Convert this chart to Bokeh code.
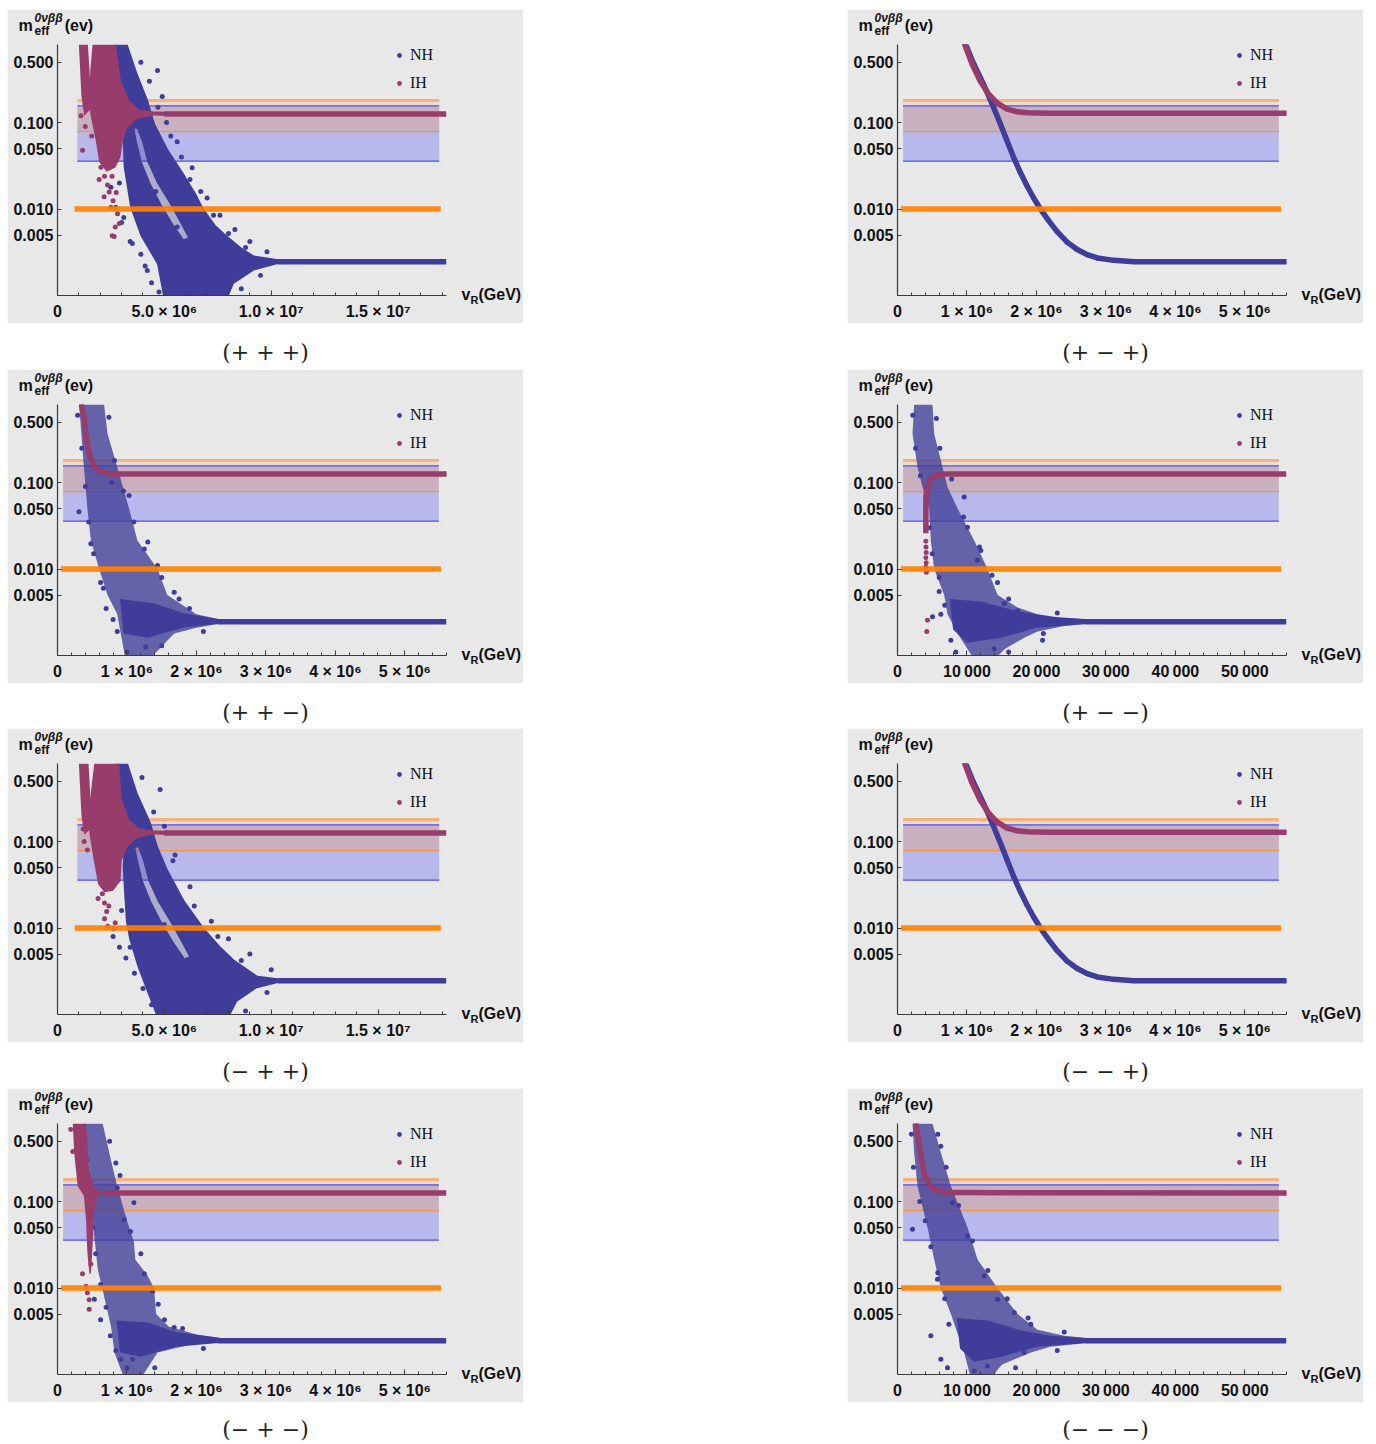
from bokeh.plotting import figure
from bokeh.layouts import column, row
from bokeh.models import (FixedTicker, Label, Legend, LegendItem, Range1d, Spacer,
                          PrintfTickFormatter)
from bokeh.embed import file_html
from bokeh.resources import INLINE

# ---------------- shared values ----------------
Y_TICKS = [0.005, 0.01, 0.05, 0.1, 0.5]
Y_LIMITS = (0.001, 0.8)
NH_BAND = (0.0358, 0.156)      # blue band
IH_BAND = (0.0787, 0.180)      # orange band
BOUND = 0.010                  # thick orange line
NH_PLATEAU = 0.00245
IH_PLATEAU = 0.126

X_MAX_A = 1.82e7
X_TICKS_A = [0, 5000000, 10000000, 15000000]
X_LABELS_A = ["0", "5.0 × 10⁶", "1.0 × 10⁷", "1.5 × 10⁷"]
X_MINOR_A = [k * 1000000 for k in range(1, 19)]
BAND_X_A = (0.93e6, 17.86e6)
BOUND_X_A = (0.80e6, 17.93e6)

X_MAX_B = 5.6e6
X_TICKS_B = [0, 1000000, 2000000, 3000000, 4000000, 5000000]
X_LABELS_B = ["0", "1 × 10⁶", "2 × 10⁶", "3 × 10⁶", "4 × 10⁶", "5 × 10⁶"]
X_MINOR_B = [k * 200000 for k in range(1, 29)]
BAND_X_B = (0.08e6, 5.49e6)
BOUND_X_B = (0.05e6, 5.52e6)

X_MAX_C = 56000
X_TICKS_C = [0, 10000, 20000, 30000, 40000, 50000]
X_LABELS_C = ["0", "10\u2009000", "20\u2009000", "30\u2009000", "40\u2009000", "50\u2009000"]
X_MINOR_C = [k * 2000 for k in range(1, 29)]
BAND_X_C = (800, 54900)
BOUND_X_C = (500, 55200)

CAPTIONS = ["(+ + +)", "(+ − +)", "(+ + −)", "(+ − −)",
            "(− + +)", "(− − +)", "(− + −)", "(− − −)"]

# ---------------- panel (+ + +) ----------------
P1_NH_X = [4.97e6, 4.66e6, 3.88e6, 3.40e6, 3.10e6, 3.05e6, 3.20e6, 3.30e6, 3.00e6, 2.85e6, 2.65e6,
           3.28e6, 3.74e6, 4.24e6, 4.55e6, 5.15e6, 5.90e6, 6.50e6, 6.80e6, 7.40e6, 7.94e6, 8.60e6,
           9.19e6, 10.4e6, 10.4e6, 9.19e6, 8.25e6, 7.94e6]
P1_NH_Y = [0.0009, 0.0023, 0.0049, 0.0105, 0.030, 0.060, 0.10, 0.15, 0.25, 0.40, 0.80,
           0.80, 0.37, 0.18, 0.098, 0.050, 0.026, 0.0148, 0.0105, 0.0065, 0.0049, 0.0036,
           0.0029, 0.0026, 0.00235, 0.00195, 0.00137, 0.0009]
P1_GAP_X = [3.60e6, 3.72e6, 3.95e6, 4.35e6, 4.85e6, 5.40e6, 5.90e6, 6.10e6, 5.70e6, 5.20e6,
            4.65e6, 4.20e6, 3.95e6, 3.72e6]
P1_GAP_Y = [0.085, 0.060, 0.035, 0.020, 0.0115, 0.0068, 0.0045, 0.0047, 0.0072, 0.012,
            0.020, 0.035, 0.060, 0.085]
P1_IH_X = [1.64e6, 2.73e6, 2.96e6, 3.35e6, 3.82e6, 4.50e6, 5.20e6, 5.20e6, 4.50e6, 3.70e6,
           3.25e6, 3.05e6, 2.95e6, 2.70e6, 2.30e6, 1.95e6, 1.80e6, 1.55e6, 1.45e6, 1.55e6]
P1_IH_Y = [0.80, 0.80, 0.31, 0.18, 0.142, 0.134, 0.133, 0.119, 0.121, 0.11,
           0.085, 0.060, 0.040, 0.030, 0.027, 0.035, 0.060, 0.12, 0.20, 0.45]
P1_STREAM_X = [1.00e6, 1.42e6, 1.50e6, 1.56e6, 1.52e6, 1.25e6, 1.12e6, 1.05e6]
P1_STREAM_Y = [0.80, 0.80, 0.40, 0.20, 0.14, 0.12, 0.20, 0.45]
P1_NH_DOTS_X = [2.50e6, 2.73e6, 3.00e6, 3.40e6, 3.90e6, 4.20e6, 4.40e6, 4.75e6, 4.68e6, 4.90e6,
                5.10e6, 5.60e6, 6.30e6, 7.00e6, 7.60e6, 8.30e6, 9.00e6, 9.80e6, 8.60e6, 9.50e6,
                4.60e6, 5.60e6, 1.95e6, 2.20e6, 1.80e6, 3.90e6, 4.30e6, 4.70e6, 5.30e6, 5.80e6,
                6.20e6, 6.70e6, 7.30e6, 8.00e6, 8.80e6, 2.90e6, 3.10e6, 3.50e6, 4.10e6]
P1_NH_DOTS_Y = [0.0179, 0.0105, 0.0070, 0.0042, 0.0030, 0.00195, 0.0014, 0.0011, 0.40, 0.20,
                0.10, 0.060, 0.030, 0.0134, 0.0085, 0.0058, 0.0042, 0.0032, 0.0012, 0.0017,
                0.016, 0.0062, 0.37, 0.25, 0.16, 0.50, 0.30, 0.15, 0.070, 0.040,
                0.022, 0.016, 0.0085, 0.0052, 0.0036, 0.020, 0.0080, 0.0040, 0.0022]
P1_IH_DOTS_X = [1.25e6, 1.17e6, 2.03e6, 1.95e6, 2.34e6, 2.42e6, 2.50e6, 2.81e6, 2.89e6, 2.65e6,
                2.18e6, 2.60e6, 2.20e6, 2.55e6, 2.75e6, 1.10e6, 1.30e6, 1.60e6, 2.56e6, 2.70e6]
P1_IH_DOTS_Y = [0.21, 0.048, 0.0305, 0.022, 0.019, 0.0157, 0.0105, 0.0088, 0.0068, 0.0048,
                0.0139, 0.0125, 0.024, 0.024, 0.0155, 0.12, 0.09, 0.07, 0.0049, 0.0062]
P1_NH_TAIL_X = [10.3e6, 18.2e6]
P1_IH_TAIL_X = [5.0e6, 18.2e6]

# ---------------- panel (+ - +) and (- - +) : identical curves ----------------
P2_NH_X = [0.976e6, 1.096e6, 1.240e6, 1.361e6, 1.481e6, 1.577e6, 1.673e6, 1.769e6, 1.865e6,
           1.962e6, 2.058e6, 2.178e6, 2.298e6, 2.442e6, 2.587e6, 2.731e6, 2.875e6, 3.115e6,
           3.404e6, 5.6e6]
P2_NH_Y = [0.820, 0.479, 0.274, 0.1656, 0.0965, 0.0615, 0.0393, 0.0264, 0.01845,
           0.01334, 0.0100, 0.0073, 0.00547, 0.00414, 0.0034, 0.00297, 0.00272, 0.00255,
           0.00246, 0.00246]
P2_IH_X = [0.962e6, 1.072e6, 1.192e6, 1.3125e6, 1.433e6, 1.577e6, 1.721e6, 1.865e6, 2.154e6, 5.6e6]
P2_IH_Y = [0.820, 0.479, 0.300, 0.213, 0.1686, 0.1433, 0.1334, 0.1297, 0.1285, 0.1285]

# ---------------- panel (+ + -) ----------------
P3_NH_X = [0.31e6, 0.67e6, 0.72e6, 0.86e6, 1.03e6, 1.15e6, 1.44e6, 1.58e6, 2.00e6, 2.35e6,
           2.35e6, 2.00e6, 1.68e6, 1.32e6, 0.98e6, 0.91e6, 0.86e6, 0.72e6, 0.60e6, 0.48e6,
           0.43e6, 0.38e6, 0.34e6]
P3_NH_Y = [0.80, 0.80, 0.366, 0.151, 0.050, 0.0214, 0.010, 0.005, 0.0030, 0.0026,
           0.00235, 0.0021, 0.0018, 0.0009, 0.0009, 0.0018, 0.0030, 0.005, 0.010, 0.0214,
           0.050, 0.15, 0.40]
P3_CORE_X = [0.90e6, 1.40e6, 1.80e6, 2.35e6, 2.35e6, 1.80e6, 1.30e6, 0.95e6]
P3_CORE_Y = [0.0045, 0.0040, 0.0031, 0.0026, 0.00235, 0.0021, 0.0016, 0.0018]
P3_NH_DOTS_X = [0.31e6, 0.48e6, 0.62e6, 0.70e6, 1.30e6, 1.44e6, 1.68e6, 1.03e6, 1.00e6, 1.27e6,
                0.86e6, 0.82e6, 0.74e6, 0.29e6, 0.35e6, 0.40e6, 0.45e6, 0.52e6, 0.66e6, 0.80e6,
                0.78e6, 0.95e6, 1.10e6, 1.25e6, 1.50e6, 1.75e6, 1.90e6, 2.10e6, 1.50e6]
P3_NH_DOTS_Y = [0.046, 0.0196, 0.0070, 0.0035, 0.0205, 0.0110, 0.0054, 0.071, 0.0011, 0.00125,
                0.0019, 0.18, 0.57, 0.60, 0.25, 0.090, 0.035, 0.015, 0.0060, 0.0026,
                0.10, 0.080, 0.035, 0.017, 0.0080, 0.0045, 0.0035, 0.0019, 0.0013]
P3_IH_X = [0.345e6, 0.384e6, 0.413e6, 0.456e6, 0.518e6, 0.60e6, 0.768e6, 5.6e6]
P3_IH_Y = [0.80, 0.553, 0.335, 0.215, 0.157, 0.136, 0.126, 0.126]
P3_NH_TAIL_X = [2.3e6, 5.6e6]

# ---------------- panel (+ - -) ----------------
P4_NH_X = [2400, 5040, 5280, 6480, 7200, 8640, 11040, 12960, 14400, 17300, 20160, 24000, 28000,
           28000, 24000, 20160, 18240, 15500, 13920, 11040, 8640, 7200, 6720, 5280, 4800, 4560,
           3600, 2880, 2160]
P4_NH_Y = [0.80, 0.80, 0.366, 0.151, 0.089, 0.050, 0.0214, 0.010, 0.005, 0.0036, 0.0030, 0.0027,
           0.0026, 0.00235, 0.0022, 0.0019, 0.0016, 0.0012, 0.0009, 0.0009, 0.0018, 0.0030, 0.005,
           0.010, 0.0214, 0.050, 0.089, 0.151, 0.366]
P4_CORE_X = [7500, 12000, 17000, 22000, 28000, 28000, 20000, 15000, 10000, 8000]
P4_CORE_Y = [0.0045, 0.0042, 0.0033, 0.0028, 0.0026, 0.00235, 0.0021, 0.0016, 0.0014, 0.0020]
P4_NH_DOTS_X = [6000, 6240, 5040, 7680, 8400, 13920, 20880, 14400, 12000, 10080, 9600, 11500,
                15360, 17280, 2200, 2600, 3300, 4200, 4600, 5000, 6000, 6800, 5600, 6100, 7800,
                9500, 11800, 13600, 16000, 23000, 21000, 16000]
P4_NH_DOTS_Y = [0.0055, 0.0030, 0.0028, 0.0015, 0.0011, 0.0012, 0.0015, 0.0070, 0.0164, 0.0305,
                0.068, 0.0126, 0.0040, 0.0033, 0.60, 0.25, 0.12, 0.070, 0.030, 0.015, 0.0080,
                0.0038, 0.55, 0.25, 0.11, 0.040, 0.018, 0.0085, 0.0045, 0.0031, 0.0018, 0.0011]
P4_IH_X = [4080, 4080, 4100, 4224, 4560, 5040, 6000, 7200, 56000]
P4_IH_Y = [0.026, 0.062, 0.072, 0.081, 0.101, 0.116, 0.124, 0.126, 0.126]
P4_IH_DOTS_X = [4080, 4100, 4130, 4080, 4130, 4080, 4150, 4320, 4224]
P4_IH_DOTS_Y = [0.021, 0.018, 0.0155, 0.0135, 0.0118, 0.0105, 0.0092, 0.00255, 0.0019]
P4_NH_TAIL_X = [27000, 56000]

# ---------------- panel (- + +) ----------------
P5_NH_X = [4.68e6, 4.20e6, 3.74e6, 3.35e6, 3.20e6, 3.12e6, 3.05e6, 3.10e6, 3.30e6, 3.05e6,
           2.85e6, 2.73e6, 3.30e6, 3.74e6, 4.37e6, 4.68e6, 5.15e6, 5.93e6, 6.86e6, 7.60e6,
           8.27e6, 9.36e6, 10.4e6, 10.4e6, 9.30e6, 8.40e6, 8.00e6]
P5_NH_Y = [0.0009, 0.0018, 0.0036, 0.0075, 0.012, 0.025, 0.050, 0.090, 0.14, 0.25,
           0.45, 0.80, 0.80, 0.366, 0.165, 0.090, 0.048, 0.021, 0.010, 0.0062,
           0.0043, 0.0028, 0.0026, 0.00235, 0.0020, 0.0014, 0.0009]
P5_GAP_X = [3.65e6, 3.77e6, 4.00e6, 4.40e6, 4.90e6, 5.45e6, 5.95e6, 6.15e6, 5.75e6, 5.25e6,
            4.70e6, 4.25e6, 4.00e6, 3.77e6]
P5_GAP_Y = [0.085, 0.060, 0.035, 0.020, 0.0115, 0.0068, 0.0045, 0.0047, 0.0072, 0.012,
            0.020, 0.035, 0.060, 0.085]
P5_IH_X = [1.72e6, 2.89e6, 3.00e6, 3.35e6, 3.82e6, 4.50e6, 5.20e6, 5.20e6, 4.50e6, 3.70e6,
           3.25e6, 3.00e6, 2.95e6, 2.60e6, 2.20e6, 1.90e6, 1.70e6, 1.50e6, 1.45e6, 1.60e6]
P5_IH_Y = [0.80, 0.80, 0.31, 0.18, 0.142, 0.134, 0.133, 0.119, 0.121, 0.11,
           0.085, 0.060, 0.035, 0.027, 0.026, 0.032, 0.060, 0.12, 0.20, 0.45]
P5_STREAM_X = [1.00e6, 1.45e6, 1.52e6, 1.58e6, 1.55e6, 1.25e6, 1.12e6, 1.05e6]
P5_STREAM_Y = [0.80, 0.80, 0.40, 0.20, 0.14, 0.12, 0.20, 0.45]
P5_NH_DOTS_X = [2.60e6, 2.90e6, 3.20e6, 3.60e6, 4.00e6, 4.40e6, 4.80e6, 5.00e6, 5.50e6, 6.20e6,
                7.20e6, 8.00e6, 9.00e6, 10.0e6, 8.80e6, 9.80e6, 5.00e6, 1.90e6, 2.30e6, 3.95e6,
                4.50e6, 5.40e6, 6.40e6, 7.50e6, 8.60e6, 3.00e6, 3.40e6]
P5_NH_DOTS_Y = [0.0080, 0.0060, 0.0045, 0.0030, 0.0020, 0.0013, 0.40, 0.15, 0.070, 0.030,
                0.012, 0.0075, 0.0050, 0.0033, 0.0011, 0.0018, 0.011, 0.30, 0.50, 0.55,
                0.22, 0.060, 0.018, 0.0080, 0.0042, 0.016, 0.0060]
P5_IH_DOTS_X = [1.20e6, 1.25e6, 1.40e6, 1.90e6, 2.20e6, 2.30e6, 2.20e6, 2.35e6, 2.60e6, 2.40e6,
                2.10e6, 2.70e6]
P5_IH_DOTS_Y = [0.14, 0.10, 0.080, 0.022, 0.0195, 0.0155, 0.0128, 0.0105, 0.0098, 0.018,
                0.025, 0.0115]
P5_NH_TAIL_X = [10.3e6, 18.2e6]
P5_IH_TAIL_X = [5.0e6, 18.2e6]

# ---------------- panel (- + -) ----------------
P7_NH_X = [0.38e6, 0.65e6, 0.77e6, 0.86e6, 1.00e6, 1.10e6, 1.12e6, 1.30e6, 1.39e6, 1.42e6,
           1.60e6, 2.00e6, 2.40e6, 2.40e6, 2.00e6, 1.44e6, 1.20e6, 0.96e6, 0.82e6, 0.77e6,
           0.67e6, 0.58e6, 0.53e6, 0.50e6, 0.456e6]
P7_NH_Y = [0.80, 0.80, 0.30, 0.15, 0.060, 0.034, 0.0214, 0.0138, 0.010, 0.005,
           0.0036, 0.0029, 0.0026, 0.00235, 0.0023, 0.0018, 0.0009, 0.0009, 0.0018, 0.0036,
           0.0081, 0.0164, 0.040, 0.097, 0.235]
P7_CORE_X = [0.85e6, 1.30e6, 1.70e6, 2.40e6, 2.40e6, 1.70e6, 1.20e6, 0.90e6]
P7_CORE_Y = [0.0042, 0.0040, 0.0031, 0.0026, 0.00235, 0.0021, 0.0016, 0.0018]
P7_NH_DOTS_X = [0.84e6, 0.86e6, 1.10e6, 0.96e6, 1.25e6, 1.37e6, 0.53e6, 0.62e6, 0.84e6, 0.91e6,
                1.00e6, 1.08e6, 1.54e6, 1.68e6, 0.36e6, 0.42e6, 0.47e6, 0.51e6, 0.55e6, 0.62e6,
                0.70e6, 0.76e6, 0.75e6, 0.90e6, 1.05e6, 1.20e6, 1.45e6, 1.80e6, 2.10e6, 1.40e6]
P7_NH_DOTS_Y = [0.28, 0.145, 0.097, 0.062, 0.0146, 0.0092, 0.0074, 0.0043, 0.0019, 0.0015,
                0.0012, 0.0015, 0.0043, 0.0035, 0.60, 0.30, 0.12, 0.050, 0.025, 0.011,
                0.0060, 0.0028, 0.50, 0.20, 0.045, 0.025, 0.0065, 0.0034, 0.0020, 0.0012]
P7_IH_X = [0.22e6, 0.41e6, 0.456e6, 0.53e6, 0.62e6, 0.80e6, 0.80e6, 0.58e6, 0.53e6, 0.50e6,
           0.48e6, 0.46e6, 0.43e6, 0.41e6, 0.38e6, 0.29e6, 0.24e6]
P7_IH_Y = [0.80, 0.80, 0.235, 0.144, 0.134, 0.133, 0.119, 0.121, 0.081, 0.0256,
           0.0146, 0.0146, 0.0256, 0.062, 0.116, 0.151, 0.366]
P7_IH_DOTS_X = [0.36e6, 0.41e6, 0.456e6, 0.456e6, 0.43e6, 0.48e6, 0.22e6, 0.19e6]
P7_IH_DOTS_Y = [0.0146, 0.0105, 0.0073, 0.0057, 0.0088, 0.019, 0.38, 0.68]
P7_NH_TAIL_X = [2.3e6, 5.6e6]
P7_IH_TAIL_X = [0.75e6, 5.6e6]

# ---------------- panel (- - -) ----------------
P8_NH_X = [2160, 5040, 6240, 7680, 10080, 11520, 14400, 17280, 20160, 24000, 28000, 28000, 22000,
           19200, 15000, 13400, 10560, 9600, 8640, 7680, 6240, 5280, 4320, 2880, 2400]
P8_NH_Y = [0.80, 0.80, 0.366, 0.151, 0.050, 0.0214, 0.010, 0.005, 0.0033, 0.0028, 0.0026, 0.00235,
           0.0021, 0.0018, 0.0013, 0.0009, 0.0009, 0.0018, 0.0030, 0.005, 0.010, 0.0214, 0.050,
           0.151, 0.366]
P8_CORE_X = [8500, 13000, 18000, 22000, 28000, 28000, 20000, 15000, 11000, 9000]
P8_CORE_Y = [0.0045, 0.0042, 0.0032, 0.0028, 0.0026, 0.00235, 0.0021, 0.0016, 0.0014, 0.0020]
P8_NH_DOTS_X = [2160, 4800, 6240, 7200, 5760, 12480, 14400, 16800, 19200, 6240, 7920, 10080,
                12960, 11040, 18240, 2000, 2300, 3200, 4000, 4800, 5800, 6800, 7400, 5800, 7000,
                8800, 10800, 13000, 15800, 18800, 24000, 23000, 17000]
P8_NH_DOTS_Y = [0.048, 0.0028, 0.0015, 0.0012, 0.0126, 0.0138, 0.0074, 0.0052, 0.0038, 0.437,
                0.097, 0.040, 0.00125, 0.0011, 0.0018, 0.60, 0.25, 0.10, 0.060, 0.030, 0.015,
                0.0075, 0.0038, 0.60, 0.25, 0.090, 0.035, 0.016, 0.0075, 0.0045, 0.0031, 0.0019,
                0.0012]
P8_IH_X = [2640, 2976, 3360, 3840, 4560, 5520, 7200, 56000]
P8_IH_Y = [0.80, 0.553, 0.335, 0.215, 0.155, 0.136, 0.127, 0.126]
P8_NH_TAIL_X = [27000, 56000]

# ---------------- styling ----------------
BG = "#e8e8e8"
NH_C = "#3f3d99"
IH_C = "#983c6c"
TXT = "#111111"
AXC = "#3a3a3a"
SANS = "Liberation Sans"


def side_label(p, place, x, y, text, size, style="bold"):
    p.add_layout(Label(x=x, y=y, x_units="screen", y_units="screen", text=text,
                       text_font=SANS, text_font_size=size, text_font_style=style,
                       text_color=TXT, text_baseline="alphabetic"), place)


def base_panel(xmax, ticks, labels, minor):
    p = figure(width=516, height=314, x_range=Range1d(0, xmax), y_range=Range1d(*Y_LIMITS),
               y_axis_type="log", output_backend="svg", toolbar_location=None,
               title_location=None,
               min_border_left=50, min_border_right=77, min_border_top=35, min_border_bottom=28)
    p.background_fill_color = BG
    p.border_fill_color = BG
    p.outline_line_color = None
    p.grid.visible = False
    xa, ya = p.xaxis[0], p.yaxis[0]
    xa.ticker = FixedTicker(ticks=ticks, minor_ticks=minor)
    xa.major_label_overrides = {int(t): l for t, l in zip(ticks, labels)}
    ya.ticker = FixedTicker(ticks=Y_TICKS)
    ya.formatter = PrintfTickFormatter(format="%.3f")
    for ax in (xa, ya):
        ax.axis_line_color = AXC
        ax.axis_line_width = 1.2
        ax.major_tick_line_color = AXC
        ax.minor_tick_line_color = AXC
        ax.major_label_text_font = SANS
        ax.major_label_text_font_style = "bold"
        ax.major_label_text_font_size = "16px"
        ax.major_label_text_color = TXT
    xa.major_tick_in, xa.major_tick_out = 5, 0
    xa.minor_tick_in, xa.minor_tick_out = 3, 0
    xa.major_label_standoff = 7
    ya.major_tick_in, ya.major_tick_out = 4, 0
    ya.minor_tick_line_color = None
    ya.major_label_standoff = 4

    # y-axis title (top-left): pieces in the top border
    side_label(p, "above", -39, 19, "m\u2003\u2003(ev)", "16px")
    side_label(p, "above", -23, 10, "0νββ", "12px", "bold italic")
    # x-axis title (right end) pieces in the right border, stacked outward
    side_label(p, "right", 15, 1, "v", "16px")
    side_label(p, "right", 15, -4, "R", "11px")
    side_label(p, "right", 15, 1, "(GeV)", "16px")
    side_label(p, "right", -472, 265, "eff", "12px")
    return p


def draw_bands(p, band_x, bound_x):
    x0, x1 = band_x
    p.quad(left=[x0], right=[x1], bottom=[NH_BAND[1]], top=[IH_BAND[1]],
           fill_color="#ebdcd3", line_color=None)
    p.quad(left=[x0], right=[x1], bottom=[IH_BAND[0]], top=[NH_BAND[1]],
           fill_color="#c9b0bf", line_color=None)
    p.quad(left=[x0], right=[x1], bottom=[NH_BAND[0]], top=[IH_BAND[0]],
           fill_color="#b8b8ec", line_color=None)
    p.line([x0, x1], [IH_BAND[1], IH_BAND[1]], line_color="#f6b27c", line_width=3)
    p.line([x0, x1], [NH_BAND[1], NH_BAND[1]], line_color="#4f4ff2", line_width=1.3)
    p.line([x0, x1], [IH_BAND[0], IH_BAND[0]], line_color="#f29446", line_width=1.3)
    p.line([x0, x1], [NH_BAND[0], NH_BAND[0]], line_color="#4f4ff2", line_width=1.3)


def shape(p, xs, ys, color, alpha=1.0, hole=None):
    if hole is None:
        p.patch(xs, ys, fill_color=color, fill_alpha=alpha, line_color=None)
    else:
        p.multi_polygons(xs=[[[list(xs), list(hole[0])]]], ys=[[[list(ys), list(hole[1])]]],
                         fill_color=color, fill_alpha=alpha, line_color=None)
        p.patch(hole[0], hole[1], fill_color=color, fill_alpha=0.35, line_color=None)


def build(spec):
    p = base_panel(spec["xmax"], spec["ticks"], spec["labels"], spec["minor"])
    draw_bands(p, spec["band"], spec["bound"])
    for (xs, ys, alpha, hole) in spec.get("nh_shapes", []):
        shape(p, xs, ys, NH_C, alpha, hole)
    nhx, nhy = spec["nh_dots"]
    nh_r = p.scatter(nhx, nhy, size=5, fill_color=NH_C, line_color=None)
    for (xs, ys) in spec.get("nh_lines", []):
        p.line(xs, ys, line_color=NH_C, line_width=5.5, line_join="round")
    for (xs, ys, alpha, hole) in spec.get("ih_shapes", []):
        shape(p, xs, ys, IH_C, alpha, hole)
    ihx, ihy = spec["ih_dots"]
    ih_r = p.scatter(ihx, ihy, size=5, fill_color=IH_C, line_color=None)
    for (xs, ys) in spec.get("ih_lines", []):
        p.line(xs, ys, line_color=IH_C, line_width=5.5, line_join="round")
    bx0, bx1 = spec["bound"]
    p.line([bx0, bx1], [BOUND, BOUND], line_color="#ff8000", line_width=5.5, line_alpha=0.92)
    leg = Legend(items=[LegendItem(label="NH", renderers=[nh_r]),
                        LegendItem(label="IH", renderers=[ih_r])],
                 location=(336, 203), orientation="vertical",
                 glyph_width=12, glyph_height=12, label_height=16, spacing=10,
                 padding=0, margin=0, label_standoff=5,
                 label_text_font="Liberation Serif", label_text_font_size="16px",
                 label_text_color=TXT, background_fill_alpha=0, border_line_alpha=0)
    p.add_layout(leg)
    return p


def caption(text, h, yc):
    c = figure(width=516, height=h, x_range=Range1d(0, 516), y_range=Range1d(0, h),
               output_backend="svg", toolbar_location=None, min_border=0,
               x_axis_location=None, y_axis_location=None, title_location=None)
    c.outline_line_color = None
    c.grid.visible = False
    c.add_layout(Label(x=258, y=h - yc, text=text, text_align="center", text_baseline="middle",
                       text_font="DejaVu Serif", text_font_size="22px", text_color="#222222"))
    return c


def tail(xs, level):
    return (xs, [level, level])


A = dict(xmax=X_MAX_A, ticks=X_TICKS_A, labels=X_LABELS_A, minor=X_MINOR_A, band=BAND_X_A, bound=BOUND_X_A)
B = dict(xmax=X_MAX_B, ticks=X_TICKS_B, labels=X_LABELS_B, minor=X_MINOR_B, band=BAND_X_B, bound=BOUND_X_B)
C = dict(xmax=X_MAX_C, ticks=X_TICKS_C, labels=X_LABELS_C, minor=X_MINOR_C, band=BAND_X_C, bound=BOUND_X_C)

specs = [
    dict(A, nh_shapes=[(P1_NH_X, P1_NH_Y, 1.0, (P1_GAP_X, P1_GAP_Y))],
         nh_dots=(P1_NH_DOTS_X, P1_NH_DOTS_Y), nh_lines=[tail(P1_NH_TAIL_X, NH_PLATEAU)],
         ih_shapes=[(P1_IH_X, P1_IH_Y, 1.0, None), (P1_STREAM_X, P1_STREAM_Y, 1.0, None)],
         ih_dots=(P1_IH_DOTS_X, P1_IH_DOTS_Y), ih_lines=[tail(P1_IH_TAIL_X, IH_PLATEAU)]),
    dict(B, nh_dots=(P2_NH_X, P2_NH_Y), nh_lines=[(P2_NH_X, P2_NH_Y)],
         ih_dots=(P2_IH_X, P2_IH_Y), ih_lines=[(P2_IH_X, P2_IH_Y)]),
    dict(B, nh_shapes=[(P3_NH_X, P3_NH_Y, 0.78, None), (P3_CORE_X, P3_CORE_Y, 1.0, None)],
         nh_dots=(P3_NH_DOTS_X, P3_NH_DOTS_Y), nh_lines=[tail(P3_NH_TAIL_X, NH_PLATEAU)],
         ih_dots=(P3_IH_X, P3_IH_Y), ih_lines=[(P3_IH_X, P3_IH_Y)]),
    dict(C, nh_shapes=[(P4_NH_X, P4_NH_Y, 0.78, None), (P4_CORE_X, P4_CORE_Y, 1.0, None)],
         nh_dots=(P4_NH_DOTS_X, P4_NH_DOTS_Y), nh_lines=[tail(P4_NH_TAIL_X, NH_PLATEAU)],
         ih_dots=(P4_IH_DOTS_X, P4_IH_DOTS_Y), ih_lines=[(P4_IH_X, P4_IH_Y)]),
    dict(A, nh_shapes=[(P5_NH_X, P5_NH_Y, 1.0, (P5_GAP_X, P5_GAP_Y))],
         nh_dots=(P5_NH_DOTS_X, P5_NH_DOTS_Y), nh_lines=[tail(P5_NH_TAIL_X, NH_PLATEAU)],
         ih_shapes=[(P5_IH_X, P5_IH_Y, 1.0, None), (P5_STREAM_X, P5_STREAM_Y, 1.0, None)],
         ih_dots=(P5_IH_DOTS_X, P5_IH_DOTS_Y), ih_lines=[tail(P5_IH_TAIL_X, IH_PLATEAU)]),
    dict(B, nh_dots=(P2_NH_X, P2_NH_Y), nh_lines=[(P2_NH_X, P2_NH_Y)],
         ih_dots=(P2_IH_X, P2_IH_Y), ih_lines=[(P2_IH_X, P2_IH_Y)]),
    dict(B, nh_shapes=[(P7_NH_X, P7_NH_Y, 0.78, None), (P7_CORE_X, P7_CORE_Y, 1.0, None)],
         nh_dots=(P7_NH_DOTS_X, P7_NH_DOTS_Y), nh_lines=[tail(P7_NH_TAIL_X, NH_PLATEAU)],
         ih_shapes=[(P7_IH_X, P7_IH_Y, 1.0, None)],
         ih_dots=(P7_IH_DOTS_X, P7_IH_DOTS_Y), ih_lines=[tail(P7_IH_TAIL_X, IH_PLATEAU)]),
    dict(C, nh_shapes=[(P8_NH_X, P8_NH_Y, 0.78, None), (P8_CORE_X, P8_CORE_Y, 1.0, None)],
         nh_dots=(P8_NH_DOTS_X, P8_NH_DOTS_Y), nh_lines=[tail(P8_NH_TAIL_X, NH_PLATEAU)],
         ih_dots=(P8_IH_X, P8_IH_Y), ih_lines=[(P8_IH_X, P8_IH_Y)]),
]

figs = [build(s) for s in specs]
cap_h = [46, 45, 46, 42]
cap_y = [29, 29, 29, 27]
items = [Spacer(width=1363, height=9)]
for r in range(4):
    items.append(row(Spacer(width=7, height=314), figs[2 * r], Spacer(width=324, height=314),
                     figs[2 * r + 1]))
    items.append(row(Spacer(width=7, height=cap_h[r]),
                     caption(CAPTIONS[2 * r], cap_h[r], cap_y[r]),
                     Spacer(width=324, height=cap_h[r]),
                     caption(CAPTIONS[2 * r + 1], cap_h[r], cap_y[r])))
layout = column(*items)

open("out.html", "w").write(file_html(layout, INLINE))
